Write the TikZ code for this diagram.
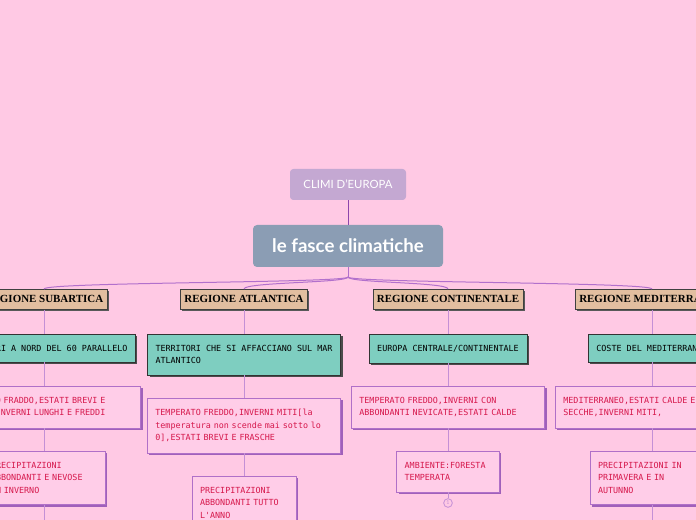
\documentclass[tikz,border=0pt]{standalone}
\usepackage{fontspec}
\setmainfont{Lato}
\setmonofont{DejaVu Sans Mono}
\newfontfamily\regionfont{Liberation Serif}
\usetikzlibrary{shadows}

\definecolor{bgpink}{RGB}{255,201,228}
\definecolor{boxpink}{RGB}{255,205,232}
\definecolor{boxline}{RGB}{176,112,200}
\definecolor{boxshade}{RGB}{160,96,186}
\definecolor{redtext}{RGB}{214,24,76}
\definecolor{tanbox}{RGB}{226,190,160}
\definecolor{tealbox}{RGB}{126,206,192}
\definecolor{titlebox}{RGB}{196,168,210}
\definecolor{mainbox}{RGB}{139,157,180}
\definecolor{branch}{RGB}{178,112,204}
\definecolor{stem}{RGB}{196,144,214}
\definecolor{toplink}{RGB}{140,70,172}

\begin{document}
\begin{tikzpicture}[x=0.75pt, y=-0.75pt,
    title/.style={fill=titlebox, rounded corners=2.5pt, text=white, font=\fontsize{8.5}{10}\selectfont, minimum width=87pt, minimum height=23.25pt},
    topic/.style={fill=mainbox, rounded corners=3pt, text=white, font=\bfseries\fontsize{14}{16}\selectfont, minimum width=142.5pt, minimum height=31.5pt},
    region/.style={draw=black!75, fill=tanbox, anchor=north, font=\regionfont\bfseries\fontsize{8.2}{9}\selectfont, inner xsep=3pt, minimum height=15pt,
        drop shadow={shadow xshift=1.3pt, shadow yshift=-1.3pt, opacity=1, fill=black!65}},
    fact/.style={draw=black!80, fill=tealbox, anchor=north, align=left, font=\ttfamily\fontsize{6.3}{9.5}\selectfont, inner xsep=6pt, inner ysep=8.1pt,
        drop shadow={shadow xshift=1.5pt, shadow yshift=-1.5pt, opacity=1, fill=black!70}},
    detail/.style={draw=boxline, fill=boxpink, text=redtext, anchor=north, align=left, text width=#1, font=\ttfamily\fontsize{6.3}{9.5}\selectfont, inner xsep=6pt, inner ysep=8.1pt,
        drop shadow={shadow xshift=1.5pt, shadow yshift=-1.5pt, opacity=1, fill=boxshade}},
    detail/.default=133pt,
    link/.style={draw=stem, line width=0.75pt}]
    \useasboundingbox (0,0) rectangle (696,520);
    \clip (0,0) rectangle (696,520);
    \fill[bgpink] (0,0) rectangle (696,520);

    \node[title] (climi) at (348,184.5) {CLIMI D'EUROPA};
    \node[topic] (fasce) at (348,246) {le fasce climatiche};
    \coordinate (split) at (348,277);

    \node[region] (sub)  at (44,289)  {REGIONE SUBARTICA};
    \node[region] (atl)  at (244,289) {REGIONE ATLANTICA};
    \node[region] (cont) at (448,289) {REGIONE CONTINENTALE};
    \node[region] (med)  at (652,289) {REGIONE MEDITERRANEA};

    \node[fact] (sub1)  at (44,334)  {TERRITORI A NORD DEL 60 PARALLELO};
    \node[fact] (atl1)  at (244,334) {TERRITORI CHE SI AFFACCIANO SUL MAR\\ATLANTICO};
    \node[fact] (cont1) at (448,334) {EUROPA CENTRALE/CONTINENTALE};
    \node[fact] (med1)  at (652,334) {COSTE DEL MEDITERRANEO};

    \node[detail] (sub2)  at (44,386)  {TEMPERATO FRADDO,ESTATI BREVI E\\FRASCHE,INVERNI LUNGHI E FREDDI};
    \node[detail] (atl2)  at (244,398) {TEMPERATO FREDDO,INVERNI MITI[la\\temperatura non scende mai sotto lo\\0],ESTATI BREVI E FRASCHE};
    \node[detail] (cont2) at (448,386) {TEMPERATO FREDDO,INVERNI CON\\ABBONDANTI NEVICATE,ESTATI CALDE};
    \node[detail] (med2)  at (652,386) {MEDITERRANEO,ESTATI CALDE E\\SECCHE,INVERNI MITI,};

    \node[detail=79.5pt] (sub3)  at (44,451)  {PRECIPITAZIONI\\ABBONDANTI E NEVOSE\\IN INVERNO};
    \node[detail=66pt]   (atl3)  at (244,476) {PRECIPITAZIONI\\ABBONDANTI TUTTO\\L'ANNO};
    \node[detail=65pt]   (cont3) at (448,451) {AMBIENTE:FORESTA\\TEMPERATA};
    \node[detail=81pt]   (med3)  at (652,451) {PRECIPITAZIONI IN\\PRIMAVERA E IN\\AUTUNNO};

    \node[circle, draw=stem, line width=0.6pt, minimum size=6.5pt, inner sep=0pt, text=stem, font=\fontsize{4}{4}\selectfont] (more) at (448,503) {1};
    \coordinate (subend) at (44,520);
    \coordinate (medend) at (652,520);

    \draw[toplink, line width=0.75pt] (climi) -- (fasce);
    \draw[branch, line width=0.75pt] (fasce) -- (split);
    \foreach \r in {sub,atl,cont,med}
        \draw[branch, line width=0.75pt] (split) .. controls +(0,6) and +(0,-7) .. (\r.north);

    \foreach \r in {sub,atl,cont,med} {
        \draw[link] (\r) -- (\r1);
        \draw[link] (\r1) -- (\r2);
        \draw[link] (\r2) -- (\r3);
    }
    \draw[link] (cont3) -- (more);
    \draw[link] (sub3) -- (subend);
    \draw[link] (med3) -- (medend);
\end{tikzpicture}
\end{document}
